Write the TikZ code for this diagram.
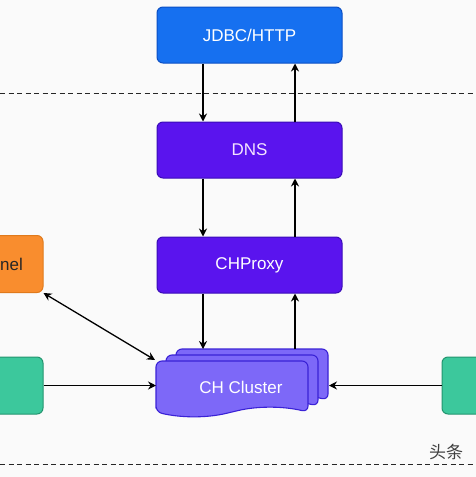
\documentclass[tikz,border=0pt]{standalone}
\usepackage{fontspec}
\setmainfont{Liberation Sans}
\newfontfamily\cjkfont{Noto Sans CJK SC}
\usetikzlibrary{arrows.meta}
\definecolor{bgc}{HTML}{FAFAFA}
\definecolor{jdbcfill}{HTML}{1670F0}
\definecolor{jdbcline}{HTML}{0B4FC4}
\definecolor{dnsfill}{HTML}{5A14EE}
\definecolor{dnsline}{HTML}{3A0CB8}
\definecolor{clfill}{HTML}{7D68F8}
\definecolor{clline}{HTML}{3A22D6}
\definecolor{orfill}{HTML}{F98D2E}
\definecolor{orline}{HTML}{E07A1C}
\definecolor{grfill}{HTML}{3CC89C}
\definecolor{grline}{HTML}{23956F}
\definecolor{dnstext}{HTML}{F4E4FF}
\tikzset{
  box/.style={rounded corners=6pt, minimum width=185pt, minimum height=56pt, inner sep=0pt, line width=1pt, font=\fontsize{17}{19}\selectfont, text=white},
  sidebox/.style={rounded corners=6pt, minimum width=103pt, minimum height=57pt, inner sep=0pt, line width=1pt},
  arr/.style={line width=1.3pt, -{Stealth[length=8pt,width=8pt]}},
  darr/.style={line width=1.3pt, {Stealth[length=8pt,width=8pt]}-{Stealth[length=8pt,width=8pt]}},
  sep/.style={line width=1pt, dash pattern=on 5pt off 3.5pt, draw=black!85},
  layer/.style={fill=clfill, draw=clline, line width=1.1pt, rounded corners=6pt}
}
\newcommand\clusterlayer[2]{%
  \filldraw[layer] ({156+#1},{412+#2}) -- ({156+#1},{361+#2}) -- ({308+#1},{361+#2}) -- ({308+#1},{412+#2})
    .. controls ({282.7+#1},{406+#2}) and ({257.3+#1},{406+#2}) .. ({232+#1},{412+#2})
    .. controls ({206.7+#1},{418+#2}) and ({181.3+#1},{418+#2}) .. cycle;}
\begin{document}
\begin{tikzpicture}[x=1pt,y=-1pt]
\useasboundingbox (0,0) rectangle (476,477);
\begin{scope}
\clip (0,0) rectangle (476,477);
\fill[bgc] (0,0) rectangle (476,477);
% separators
\coordinate (sepAl) at (0,93); \coordinate (sepAr) at (476,93);
\coordinate (sepBl) at (0,464); \coordinate (sepBr) at (476,464);
\draw[sep] (sepAl) -- (sepAr);
\draw[sep] (sepBl) -- (sepBr);
% main boxes
\node[box, fill=jdbcfill, draw=jdbcline] (jdbc) at (249.5,35) {JDBC/HTTP};
\node[box, fill=dnsfill, draw=dnsline, text=dnstext] (dns) at (249.5,150) {DNS};
\node[box, fill=dnsfill, draw=dnsline] (proxy) at (249.5,265) {CHProxy};
% side boxes
\node[sidebox, fill=orfill, draw=orline] (orange) at (-8.5,264) {};
\node[font=\fontsize{17}{19}\selectfont, text=black!85, inner sep=0pt, anchor=east] (orangelabel) at (23,264) {nel};
\node[sidebox, fill=grfill, draw=grline] (greenL) at (-8.5,385.5) {};
\node[sidebox, fill=grfill, draw=grline] (greenR) at (493.5,385.5) {};
% cluster
\clusterlayer{20}{-12}
\clusterlayer{10}{-6}
\clusterlayer{0}{0}
\node[font=\fontsize{17}{19}\selectfont, text=white, inner sep=0pt] (cluster) at (241,387) {CH Cluster};
\coordinate (clTopL) at (203,349);
\coordinate (clTopR) at (295,349);
\coordinate (clCorner) at (155,360);
\coordinate (clLeft) at (156,385.5);
\coordinate (clRight) at (329,385.5);
% connectors
\draw[arr] ([xshift=-46.5pt]jdbc.south) -- ([xshift=-46.5pt]dns.north);
\draw[arr] ([xshift=45.5pt]dns.north) -- ([xshift=45.5pt]jdbc.south);
\draw[arr] ([xshift=-46.5pt]dns.south) -- ([xshift=-46.5pt]proxy.north);
\draw[arr] ([xshift=45.5pt]proxy.north) -- ([xshift=45.5pt]dns.south);
\draw[arr] ([xshift=-46.5pt]proxy.south) -- (clTopL);
\draw[arr] (clTopR) -- ([xshift=45.5pt]proxy.south);
\draw[darr] (orange.south east) -- (clCorner);
\draw[arr] (greenL.east) -- (clLeft);
\draw[arr] (greenR.west) -- (clRight);
% watermark
\node[font=\cjkfont\fontsize{17}{19}\selectfont, text=black!75, inner sep=0pt] (wm) at (446,452) {头条};
\end{scope}
\end{tikzpicture}
\end{document}
